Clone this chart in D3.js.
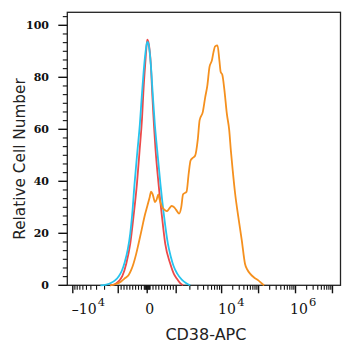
<!DOCTYPE html>
<html><head><meta charset="utf-8">
<script src="https://cdn.jsdelivr.net/npm/d3@7"></script>
<style>body{margin:0;background:#fff}</style>
</head><body><svg id="c" width="354" height="350"></svg>
<script>
// ---- data (x in display channels 0..1024, y = relative cell number) ----
const isotypeRedX = [161,180,195,206,221,236,248,261,271,280,285,292,298,300,305,313,319,331,342,355,367,386,399,411,423,434];
const isotypeRedY = [0,0.5,1.8,3.5,8.3,16,26.3,39,51.9,64,74,85,93,94.5,93,85,72.4,51.9,39,26.3,16,8.3,4.5,2.5,0.8,0];
const blankBlueX = [124,146,165,180,193,204,215,227,236,243,252,263,272,279,286,293,298,301,306,313,320,328,337,349,363,377,388,398,412,429,446,461];
const blankBlueY = [0,0.3,1,2,3.5,5.5,8.8,14,20,27,39,51.9,62,72.4,82,89.5,93,93.6,92,85,74,62,51.9,39,26.3,16,11,7.5,4.5,2.2,0.8,0];
const cd38OrangeX = [161,183,202,217,230,240,248,258,267,279,289,300,309,314,320,329,335,341,346,356,365,373,382,391,401,408,419,427,434,447,455,462,470,479,489,496,508,517,525,533,542,548,554,563,570,575,581,589,598,607,613,620,629,641,654,666,676,685,700,716,728,738];
const cd38OrangeY = [0,0.5,1.5,2.8,4,6,8.3,12,16,21.5,26.3,30.5,34,36,35,32,33,35,33,30,29,28.5,29.5,30.5,30,29,27.6,30,35,36,43,48,49,49.8,56,63.5,66.7,72.4,76.9,84,86.5,89.7,91.9,92.3,86.5,82,81,75,66,59.6,51.9,44.2,35.3,26.3,17.3,8.3,5.8,4.5,3,1.9,0.8,0];

const yMajorTicks = [0,20,40,60,80,100];
const xMajorTicks = [-1e4,-1e3,0,1e3,1e4,1e5,1e6,1e7];
const xLabelValues = [-1e4,0,1e4,1e6];
const xLabelBase = ["\u201310","0","10","10"];
const xLabelExp = ["4","","4","6"];
const xTitle = "CD38-APC";
const yTitle = "Relative Cell Number";

// ---- layout ----
const svg = d3.select("#c");
const L = 67.3, R = 340.5, T = 12.3, B = 285.3;
const x = d3.scaleLinear().domain([0,1024]).range([L,R]);
const y = d3.scaleLinear().domain([0,105]).range([B,T]);

// biexponential-like value -> channel transform
const ZERO_CH = 299.5;
const linPart = d3.scaleLinear().domain([0,1000]).range([0,108.6]);
const logPart = d3.scaleLog().domain([1e3,1e4,1e5,1e6,1e7]).range([108.6,278.9,417.4,555.9,694.4]);
function ch(v){const a=Math.abs(v);const o=a<=1000?linPart(a):logPart(a);return ZERO_CH+Math.sign(v)*o;}

// minor ticks
const xMinor = [];
[25,50,75].forEach(v=>{xMinor.push(v,-v);});
for(let k=1;k<=9;k++){xMinor.push(k*100,-k*100);}
for(let d=3;d<=6;d++){for(let k=2;k<=9;k++){xMinor.push(k*Math.pow(10,d));}}
for(let k=2;k<=9;k++){xMinor.push(-k*1000);}
const yMinor = [];
for(let v=0; v<=105; v+=20/6){ if(Math.abs(v/20-Math.round(v/20))>0.01) yMinor.push(v); }

// frame
svg.append("rect").attr("x",L).attr("y",T).attr("width",R-L).attr("height",B-T)
  .attr("fill","none").attr("stroke","#222").attr("stroke-width",1.3);

const tickColor="#111";
// x ticks
svg.append("g").selectAll("line.xm").data(xMinor).join("line")
  .attr("x1",d=>x(ch(d))).attr("x2",d=>x(ch(d))).attr("y1",B).attr("y2",B+4.5)
  .attr("stroke",tickColor).attr("stroke-width",1.1);
svg.append("g").selectAll("line.xM").data(xMajorTicks).join("line")
  .attr("x1",d=>x(ch(d))).attr("x2",d=>x(ch(d))).attr("y1",B).attr("y2",B+8)
  .attr("stroke",tickColor).attr("stroke-width",1.4);
// y ticks
svg.append("g").selectAll("line.ym").data(yMinor).join("line")
  .attr("x1",L-4.5).attr("x2",L).attr("y1",d=>y(d)).attr("y2",d=>y(d))
  .attr("stroke",tickColor).attr("stroke-width",1.1);
svg.append("g").selectAll("line.yM").data(yMajorTicks).join("line")
  .attr("x1",L-9).attr("x2",L).attr("y1",d=>y(d)).attr("y2",d=>y(d))
  .attr("stroke",tickColor).attr("stroke-width",1.4);

// y labels
svg.append("g").selectAll("text").data(yMajorTicks).join("text")
  .attr("x",49).attr("y",d=>y(d)+4).attr("text-anchor","end")
  .attr("font-family","DejaVu Serif").attr("font-weight","bold").attr("font-size",11)
  .attr("fill","#111").text(d=>d);

// x labels
const xLabelDx = [-1,-2,-3.5,-5.5];
xLabelValues.forEach((v,i)=>{
  const t = svg.append("text").attr("x",x(ch(v))+xLabelDx[i]).attr("y",313.5)
    .attr("font-family","DejaVu Serif").attr("font-size",14).attr("fill","#111");
  t.append("tspan").text(xLabelBase[i]);
  if(xLabelExp[i]) t.append("tspan").attr("dx",1.2).attr("dy",-8).attr("font-size",11.5).text(xLabelExp[i]);
});

// titles
svg.append("text").attr("x",(L+R)/2+2).attr("y",340).attr("text-anchor","middle")
  .attr("font-family","DejaVu Sans").attr("font-size",16).attr("fill","#222").text(xTitle);
svg.append("text").attr("transform","translate(25,159) rotate(-90)").attr("text-anchor","middle")
  .attr("font-family","DejaVu Sans").attr("font-size",15.3).attr("fill","#222").text(yTitle);

// curves
const line = d3.line().x(d=>x(d[0])).y(d=>y(d[1])).curve(d3.curveMonotoneX);
const series = [
  {xs:isotypeRedX, ys:isotypeRedY, color:"#ec4a4a"},
  {xs:blankBlueX, ys:blankBlueY, color:"#27c4ee"},
  {xs:cd38OrangeX, ys:cd38OrangeY, color:"#f5901e"}
];
series.forEach(s=>{
  svg.append("path").datum(s.xs.map((v,i)=>[v,s.ys[i]]))
    .attr("d",line).attr("fill","none").attr("stroke",s.color).attr("stroke-width",1.8)
    .attr("stroke-linejoin","round");
});
</script></body></html>
